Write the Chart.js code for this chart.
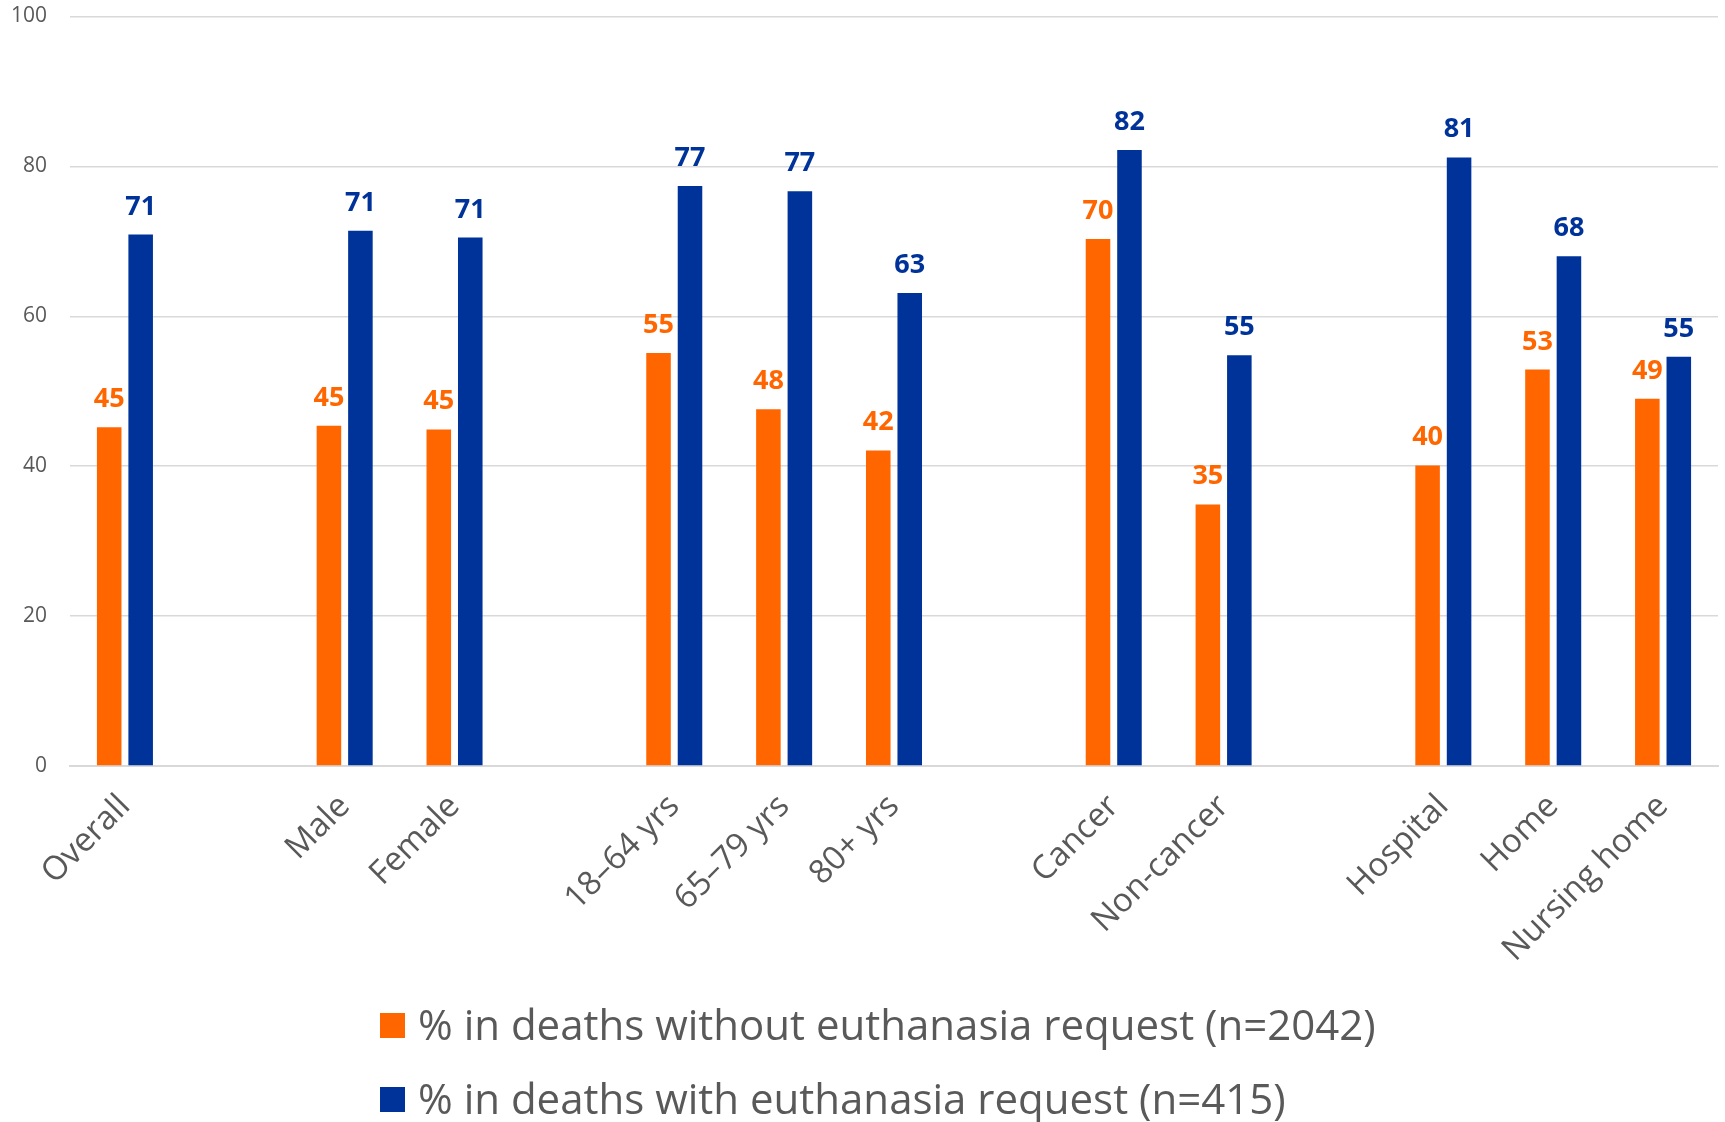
<!DOCTYPE html>
<html>
<head>
<meta charset="utf-8">
<title>Euthanasia request comparison</title>
<script src="https://cdn.jsdelivr.net/npm/chart.js@4"></script>
<style>
  html, body { margin: 0; padding: 0; background: #ffffff; }
  #wrap { width: 1725px; height: 1122px; }
</style>
</head>
<body>
<div id="wrap"><canvas id="chart" width="1725" height="1122"></canvas></div>
<script>
// Categories; empty strings leave a gap between the groups
const categories = [
  'Overall', '',
  'Male', 'Female', '',
  '18\u201364 yrs', '65\u201379 yrs', '80+ yrs', '',
  'Cancer', 'Non-cancer', '',
  'Hospital', 'Home', 'Nursing home'
];

const seriesLabels = [
  '% in deaths without euthanasia request (n=2042)',
  '% in deaths with euthanasia request (n=415)'
];

const withoutRequest = [45.2, null, 45.4, 44.9, null, 55.1, 47.6, 42.1, null, 70.3, 34.9, null, 40.1, 52.9, 49.0];
const withRequest    = [70.9, null, 71.4, 70.5, null, 77.4, 76.7, 63.1, null, 82.2, 54.8, null, 81.2, 68.0, 54.6];

const yTicks = [0, 20, 40, 60, 80, 100];

const ORANGE = '#FF6600';
const BLUE = '#003399';
const GREY_TEXT = '#595959';
const GRID = '#d9d9d9';

// Plot area frame inside the canvas
const PLOT_TOP = 16.5;
const PLOT_BOTTOM = 766;

// Value labels above each bar
const valueLabels = {
  id: 'valueLabels',
  afterDatasetsDraw(chart) {
    const ctx = chart.ctx;
    ctx.save();
    ctx.font = 'bold 27px "Open Sans"';
    ctx.textAlign = 'center';
    ctx.textBaseline = 'alphabetic';
    chart.data.datasets.forEach((ds, i) => {
      const meta = chart.getDatasetMeta(i);
      meta.data.forEach((bar, j) => {
        const v = ds.data[j];
        if (v === null || v === undefined) return;
        ctx.fillStyle = ds.backgroundColor;
        ctx.fillText(String(Math.round(v)), bar.x, bar.y - 20);
      });
    });
    ctx.restore();
  }
};

// Two-line legend under the axis labels
const stackedLegend = {
  id: 'stackedLegend',
  afterDraw(chart) {
    const ctx = chart.ctx;
    const rows = [1026, 1100];
    ctx.save();
    ctx.font = '42px "Open Sans"';
    ctx.textBaseline = 'middle';
    ctx.textAlign = 'left';
    chart.data.datasets.forEach((ds, i) => {
      const y = rows[i];
      ctx.fillStyle = ds.backgroundColor;
      ctx.fillRect(380, y - 13, 25, 25);
      ctx.fillStyle = GREY_TEXT;
      ctx.fillText(ds.label, 418, y + 2);
    });
    ctx.restore();
  }
};

new Chart(document.getElementById('chart'), {
  type: 'bar',
  data: {
    labels: categories,
    datasets: [
      { label: seriesLabels[0], data: withoutRequest, backgroundColor: ORANGE,
        categoryPercentage: 0.573, barPercentage: 0.78 },
      { label: seriesLabels[1], data: withRequest, backgroundColor: BLUE,
        categoryPercentage: 0.573, barPercentage: 0.78 }
    ]
  },
  options: {
    responsive: false,
    animation: false,
    layout: { padding: { top: PLOT_TOP, right: 7, bottom: 0, left: 0 } },
    plugins: {
      legend: { display: false },
      tooltip: { enabled: false }
    },
    scales: {
      x: {
        grid: { display: false, drawTicks: false },
        border: { display: true, color: GRID, width: 2 },
        ticks: {
          autoSkip: false,
          maxRotation: 45,
          minRotation: 45,
          padding: 21,
          color: GREY_TEXT,
          font: { family: '"Open Sans"', size: 33 }
        },
        afterFit(scale) { scale.height = 1122 - PLOT_BOTTOM; }
      },
      y: {
        min: 0,
        max: 100,
        afterBuildTicks(scale) { scale.ticks = yTicks.map(v => ({ value: v })); },
        grid: { color: GRID, lineWidth: 1.5, drawTicks: false },
        border: { display: false },
        ticks: {
          padding: 23,
          color: GREY_TEXT,
          font: { family: '"Open Sans"', size: 21 }
        },
        afterFit(scale) {
          // fixed axis width; label overflow is already covered by the layout padding
          scale.width = 70;
          scale.paddingTop = 0;
          scale.paddingBottom = 0;
        }
      }
    }
  },
  plugins: [valueLabels, stackedLegend]
});
</script>
</body>
</html>
